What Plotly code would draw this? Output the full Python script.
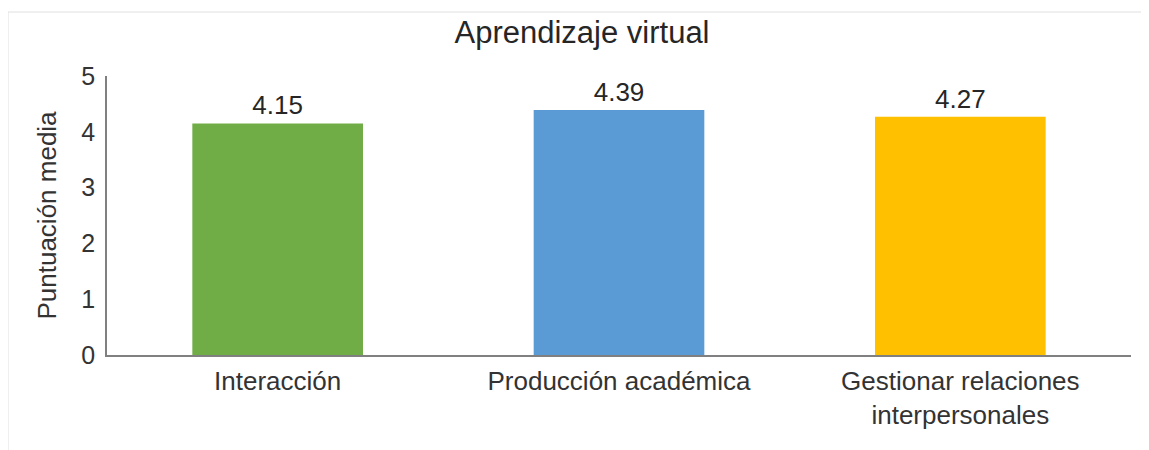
import plotly.graph_objects as go

categories = ["Interacción", "Producción académica", "Gestionar relaciones<br>interpersonales"]
values = [4.15, 4.39, 4.27]
colors = ["#70AD47", "#5B9BD5", "#FFC000"]
title = "Aprendizaje virtual"
y_title = "Puntuación media"

# page body adds an 8px offset; margins compensate so the plot lands where the reference has it
W, H = 1149, 450
ml, mr, mt, mb = 99, 26, 68, 103
pw, ph = W - ml - mr, H - mt - mb

fig = go.Figure(go.Bar(
    x=categories, y=values, marker_color=colors, marker_line_width=0,
    text=[f"{v:.2f}" for v in values], textposition="outside",
    textfont=dict(size=26, color="#262626"), cliponaxis=False,
))

fig.update_layout(
    width=W, height=H, margin=dict(l=ml, r=mr, t=mt, b=mb),
    paper_bgcolor="white", plot_bgcolor="white",
    font=dict(family="Liberation Sans, Arial, sans-serif", size=26, color="#333333"),
    title=dict(text=title, x=574 / W, xanchor="center",
               y=1 - 24 / H, yanchor="middle", font=dict(size=31, color="#262626")),
    bargap=0.5, showlegend=False,
    xaxis=dict(showline=True, linecolor="#808080", linewidth=2, ticks="",
               ticklabelstandoff=2,
               tickfont=dict(size=26, color="#333333"), showgrid=False),
    yaxis=dict(range=[0, 5], dtick=1, showline=True, linecolor="#808080", linewidth=1.5,
               ticks="", showgrid=False, zeroline=False, ticklabelstandoff=5,
               tickfont=dict(size=25, color="#333333"),
               title=dict(text=y_title, font=dict(size=26, color="#333333"), standoff=17)),
    shapes=[
        dict(type="line", xref="paper", yref="paper",
             x0=-ml / pw, x1=(W - ml) / pw, y0=1 + (mt - 4) / ph, y1=1 + (mt - 4) / ph,
             line=dict(color="#e0e0e0", width=1)),
        dict(type="line", xref="paper", yref="paper",
             x0=-ml / pw, x1=-ml / pw, y0=1 + (mt - 4) / ph, y1=-mb / ph,
             line=dict(color="#e0e0e0", width=1)),
    ],
)

fig.write_html("out.html")
